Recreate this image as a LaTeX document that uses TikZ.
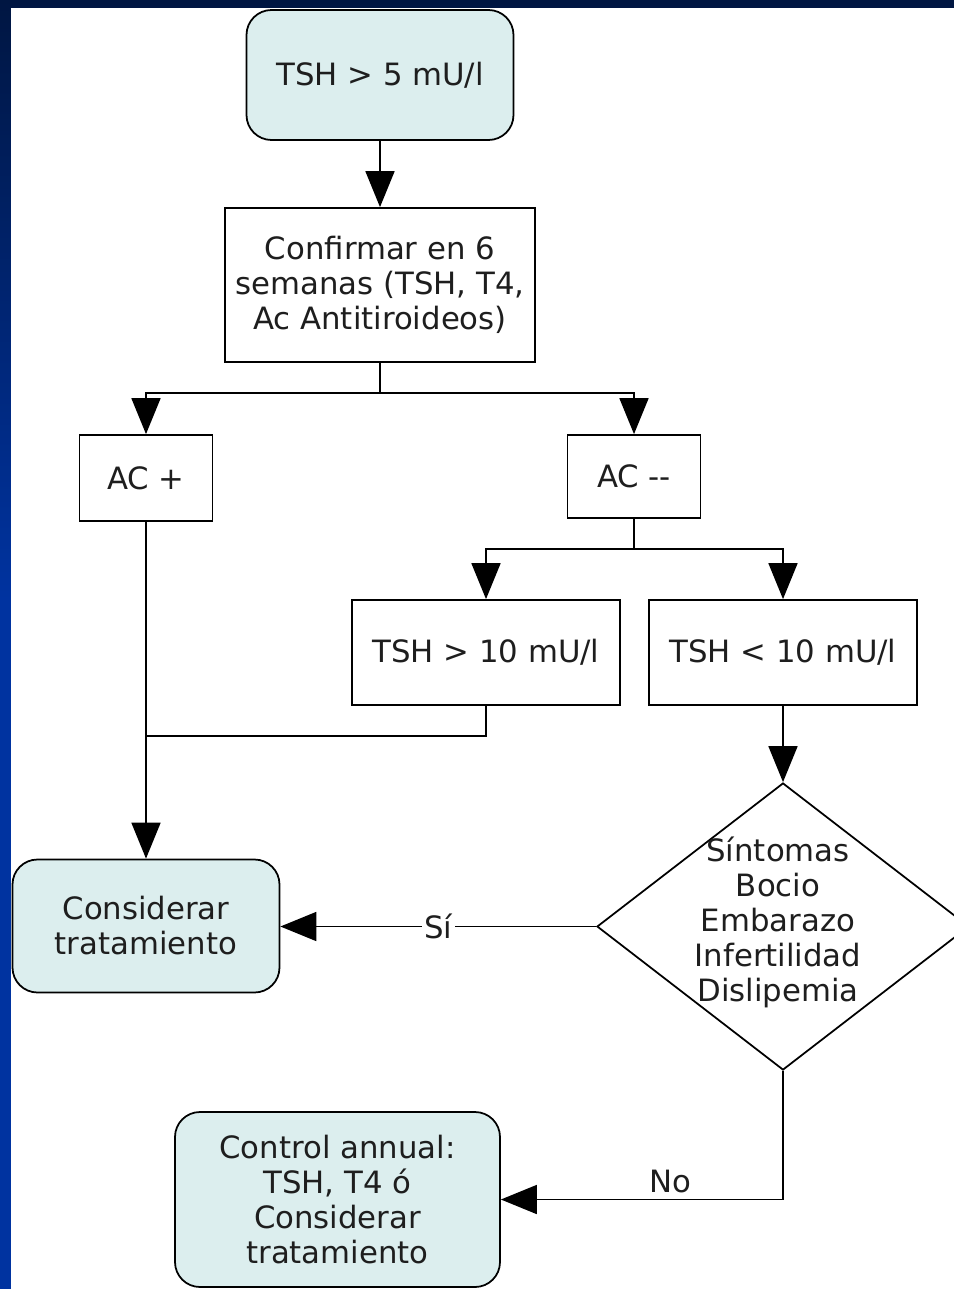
\documentclass[tikz,border=0pt]{standalone}
\usepackage{fontspec}
\setmainfont{DejaVu Sans}
\usetikzlibrary{arrows.meta,shapes.geometric,positioning}
\definecolor{boxfill}{RGB}{220,238,238}
\definecolor{navy}{RGB}{0,22,66}
\definecolor{slideblue}{RGB}{0,51,160}
\definecolor{ink}{RGB}{30,30,30}

\begin{document}
\begin{tikzpicture}[x=0.2mm, y=-0.2mm, line width=1pt, node distance=1cm,
                    >={Triangle[width=0.58cm,length=0.72cm]},
                    every node/.style={font=\fontsize{17.5}{19.9}\selectfont, text=ink},
                    main/.style={draw, inner sep=0pt, align=center},
                    term/.style={main, fill=boxfill, rounded corners=0.5cm},
                    cond/.style={draw, diamond, inner sep=0pt, minimum width=7.44cm, minimum height=5.74cm}]
    \clip (0,0) rectangle (954,1289);
    \fill[slideblue] (0,0) rectangle (954,1289);
    \shade[top color=navy, bottom color=slideblue] (0,0) rectangle (954,600);
    \fill[white] (11,8) rectangle (954,1289);
    \node[term, minimum width=5.34cm, minimum height=2.6cm] (1) at (380,75) {TSH > 5 mU/l};
\node[main, minimum width=6.2cm, minimum height=3.08cm] (2) at (380,285) {Confirmar en 6\\semanas (TSH, T4,\\Ac Antitiroideos)};
\node[main, minimum width=2.66cm, minimum height=1.72cm] (3) at (146,478) {AC +};
\node[main, minimum width=2.66cm, minimum height=1.66cm] (4) at (634,476.5) {AC {-}{-}};
\node[main, minimum width=5.36cm, minimum height=2.1cm] (5) at (486,652.5) {TSH > 10 mU/l};
\node[main, minimum width=5.36cm, minimum height=2.1cm] (6) at (783,652.5) {TSH < 10 mU/l};
\node[term, minimum width=5.34cm, minimum height=2.66cm] (7) at (146,926) {Considerar\\tratamiento};
\node[cond] (8) at (783,926.5) {};
\node[align=center] (8t) at (778,922) {Síntomas\\Bocio\\Embarazo\\Infertilidad\\Dislipemia};
\node[term, minimum width=6.5cm, minimum height=3.5cm] (9) at (337.5,1199.5) {Control annual:\\TSH, T4 ó\\Considerar\\tratamiento};
    \path[->] (1) edge (2)
(3) edge (7)
(6) edge (8);
    \draw[->] (2.south) -- ++(0,30) -| (3.north);
    \draw[->] (2.south) -- ++(0,30) -| (4.north);
    \draw[->] (4.south) -- ++(0,30) -| (5.north);
    \draw[->] (4.south) -- ++(0,30) -| (6.north);
    \draw (5.south) -- ++(0,30) -| (3.south);
    \draw[->] (8.west) -- node[fill=white, inner sep=1.5pt] {Sí} (8.west -| 7.east);
    \draw[->] (8.south) |- node[pos=0.7, above] {No} (9.east);
\end{tikzpicture}
\end{document}
